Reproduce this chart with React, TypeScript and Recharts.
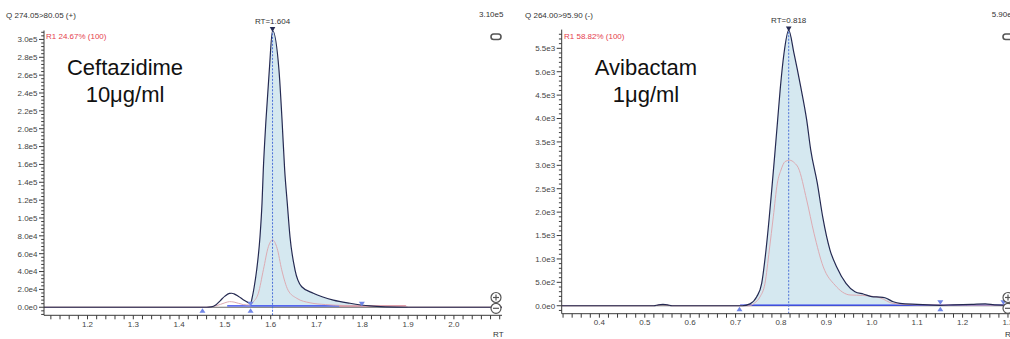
import React from 'react';
import {
  ComposedChart,
  Line,
  Area,
  XAxis,
  YAxis,
  ReferenceLine,
  ReferenceDot,
} from 'recharts';

const FONT = 'Arial, "Liberation Sans", sans-serif';
const NAVY = '#252a52';
const FILL = '#d5e8f0';
const PINK = '#dcaab2';
const BASE_BLUE = '#2a3df0';
const MARK_BLUE = '#7086e6';
const AXIS = '#3a3a3a';
const LABEL = '#444';

// Ceftazidime, Q 274.05>80.05 (+)
const ceftaRt = [
  1.105, 1.46, 1.47, 1.48, 1.49, 1.5, 1.51, 1.515, 1.52, 1.53, 1.54, 1.55, 1.556, 1.56, 1.564,
  1.5694, 1.5766, 1.581, 1.5838, 1.5897, 1.597, 1.604, 1.618, 1.6247, 1.6305, 1.6362, 1.6421,
  1.653, 1.6677, 1.693, 1.7367, 1.7731, 1.8168, 1.85, 1.9, 2.105,
];
const ceftaIntensity = [
  0, 0, 400, 2500, 7500, 12500, 15500, 15700, 15000, 12000, 8500, 5500, 4500, 12000, 23000,
  42000, 79000, 116500, 153700, 210000, 266000, 310000, 266000, 210000, 153700, 116500, 79000,
  42000, 23000, 15700, 8000, 4500, 1500, 500, 0, 0,
];
const ceftaRefRt = [
  1.105, 1.46, 1.48, 1.5, 1.51, 1.52, 1.54, 1.555, 1.562, 1.573, 1.584, 1.595, 1.604, 1.614,
  1.624, 1.638, 1.657, 1.686, 1.72, 1.76, 1.895, 1.9, 2.105,
];
const ceftaRefIntensity = [
  0, 0, 1500, 5000, 6300, 5800, 3000, 2500, 6000, 15700, 42000, 68000, 75400, 66000, 42000,
  19000, 10000, 5000, 3000, 2000, 1500, 0, 0,
];
const ceftaPeakRange: [number, number] = [1.556, 1.85];
const ceftaBaseRt = [1.505, 1.75];
const ceftaBaseLevel = [1500, 1500];
const ceftaTailRt = [1.75, 1.895];
const ceftaTailLevel = [1500, 1500];
const ceftaMarkerRt = [1.451, 1.556, 1.799];
const ceftaMarkerKind = ['up', 'both', 'down'];
const ceftaApex = { rt: 1.604, v: 310000, label: 'RT=1.604' };
const ceftaXMajor = [1.2, 1.3, 1.4, 1.5, 1.6, 1.7, 1.8, 1.9, 2.0];
const ceftaYMajor = [
  0, 20000, 40000, 60000, 80000, 100000, 120000, 140000, 160000, 180000, 200000, 220000,
  240000, 260000, 280000, 300000,
];

// Avibactam, Q 264.00>95.90 (-)
const aviRt = [
  0.317, 0.52, 0.53, 0.54, 0.55, 0.56, 0.715, 0.7318, 0.7465, 0.7575, 0.767, 0.7743, 0.7809,
  0.7865, 0.7925, 0.7985, 0.8066, 0.817, 0.8287, 0.8434, 0.8566, 0.8655, 0.88, 0.8919, 0.908,
  0.9227, 0.9432, 0.963, 0.9813, 1.0033, 1.018, 1.0291, 1.0474, 1.0622, 1.1, 1.151, 1.18,
  1.22, 1.25, 1.27, 1.3, 1.317,
];
const aviIntensity = [
  0, 0, 20, 30, 20, 0, 0, 40, 190, 480, 1190, 1900, 2620, 3250, 3950, 4650, 5390, 5890, 5390,
  4680, 3970, 3330, 2620, 1900, 1190, 830, 480, 300, 250, 190, 185, 170, 85, 50, 30, 10, 20,
  30, 40, 20, 10, 10,
];
const aviRefRt = [
  0.317, 0.52, 0.54, 0.56, 0.73, 0.742, 0.7538, 0.7648, 0.7743, 0.7831, 0.792, 0.8, 0.809,
  0.819, 0.83, 0.838, 0.8566, 0.8727, 0.8932, 0.919, 0.952, 0.98, 1.018, 1.047, 1.1, 1.317,
];
const aviRefIntensity = [
  0, 0, 25, 0, 0, 60, 190, 480, 1190, 1900, 2620, 2900, 3080, 3110, 3050, 2950, 2260, 1550,
  830, 440, 230, 220, 170, 50, 20, 10,
];
const aviPeakRange: [number, number] = [0.715, 1.151];
const aviBaseRt = [0.71, 1.3];
const aviBaseLevel = [15, 15];
const aviMarkerRt = [0.7086, 1.151, 1.29];
const aviMarkerKind = ['up', 'both', 'down'];
const aviApex = { rt: 0.817, v: 5890, label: 'RT=0.818' };
const aviXMajor = [0.4, 0.5, 0.6, 0.7, 0.8, 0.9, 1.0, 1.1, 1.2, 1.3];
const aviYMajor = [0, 500, 1000, 1500, 2000, 2500, 3000, 3500, 4000, 4500, 5000, 5500];

type Pt = { rt: number; v: number };
const zip = (rt: number[], v: number[]): Pt[] => rt.map((r, i) => ({ rt: r, v: v[i] }));

const steps = (from: number, to: number, step: number) => {
  const out: number[] = [];
  const n = Math.round((to - from) / step);
  for (let i = 0; i <= n; i++) out.push(Number((from + i * step).toFixed(4)));
  return out;
};

const fmtExp = (v: number) => v.toExponential(1).replace('+', '');
const isMajor = (majors: number[], v: number) => majors.some((m) => Math.abs(m - v) < 1e-6);

const XTick = (props: any) => {
  const { x, y, payload, majors } = props;
  const val = payload.value as number;
  return (
    <g>
      <line x1={x} x2={x} y1={y} y2={y + 4} stroke={AXIS} strokeWidth={1} />
      {isMajor(majors, val) && (
        <text x={x} y={y + 11.5} textAnchor="middle" fontSize={8} fontFamily={FONT} fill={LABEL}>
          {val.toFixed(1)}
        </text>
      )}
    </g>
  );
};

const YTick = (props: any) => {
  const { x, y, payload, majors } = props;
  const val = payload.value as number;
  const major = isMajor(majors, val);
  return (
    <g>
      <line x1={x - (major ? 5 : 2.8)} x2={x} y1={y} y2={y} stroke={AXIS} strokeWidth={1} />
      {major && (
        <text x={x - 6.5} y={y + 2.9} textAnchor="end" fontSize={8} fontFamily={FONT} fill={LABEL}>
          {fmtExp(val)}
        </text>
      )}
    </g>
  );
};

const Marker = (props: any) => {
  const { cx, cy, kind } = props;
  const down = `M${cx - 3},${cy - 5.5} L${cx + 3},${cy - 5.5} L${cx},${cy - 1} Z`;
  const up = `M${cx - 3},${cy + 5.5} L${cx + 3},${cy + 5.5} L${cx},${cy + 1} Z`;
  return (
    <g>
      {(kind === 'down' || kind === 'both') && <path d={down} fill={MARK_BLUE} />}
      {(kind === 'up' || kind === 'both') && <path d={up} fill={MARK_BLUE} />}
    </g>
  );
};

const ApexMark = (props: any) => {
  const { cx, cy, label } = props;
  return (
    <g>
      <path d={`M${cx - 2.8},${cy - 3.5} L${cx + 2.8},${cy - 3.5} L${cx},${cy + 1.5} Z`} fill={NAVY} />
      <text x={cx} y={cy - 7} textAnchor="middle" fontSize={8} fontFamily={FONT} fill="#333">
        {label}
      </text>
    </g>
  );
};

type PanelProps = {
  left: number;
  width: number;
  top: number;
  right: number;
  yAxisWidth: number;
  xAxisHeight: number;
  xDomain: [number, number];
  yDomain: [number, number];
  xMajor: number[];
  xMinor: number[];
  yMajor: number[];
  yMinor: number[];
  trace: Pt[];
  refTrace: Pt[];
  peakRange: [number, number];
  baselines: { data: Pt[]; color: string }[];
  markerRt: number[];
  markerKind: string[];
  apex: { rt: number; v: number; label: string };
};

function Panel(p: PanelProps) {
  const fill = p.trace.filter((d) => d.rt >= p.peakRange[0] && d.rt <= p.peakRange[1]);
  return (
    <div style={{ position: 'absolute', left: p.left, top: 0, width: p.width, height: 339 }}>
      <ComposedChart
        width={p.width}
        height={339}
        margin={{ top: p.top, right: p.right, bottom: 0, left: 0 }}
      >
        <XAxis
          type="number"
          dataKey="rt"
          domain={p.xDomain}
          allowDataOverflow
          ticks={p.xMinor}
          interval={0}
          height={p.xAxisHeight}
          tickSize={0}
          tickMargin={0}
          tickLine={false}
          axisLine={{ stroke: AXIS, strokeWidth: 1 }}
          tick={(t: any) => <XTick {...t} majors={p.xMajor} />}
        />
        <YAxis
          type="number"
          dataKey="v"
          domain={p.yDomain}
          allowDataOverflow
          ticks={p.yMinor}
          interval={0}
          width={p.yAxisWidth}
          tickSize={0}
          tickMargin={0}
          tickLine={false}
          axisLine={{ stroke: AXIS, strokeWidth: 1 }}
          tick={(t: any) => <YTick {...t} majors={p.yMajor} />}
        />
        <ReferenceLine y={0} stroke="#6a6a6a" strokeWidth={1} />
        <Area
          data={fill}
          dataKey="v"
          type="monotone"
          stroke="none"
          fill={FILL}
          fillOpacity={1}
          isAnimationActive={false}
        />
        {p.baselines.map((b, i) => (
          <Line
            key={i}
            data={b.data}
            dataKey="v"
            type="linear"
            stroke={b.color}
            strokeWidth={1.3}
            dot={false}
            isAnimationActive={false}
          />
        ))}
        <Line
          data={p.refTrace}
          dataKey="v"
          type="monotone"
          stroke={PINK}
          strokeWidth={1}
          dot={false}
          isAnimationActive={false}
        />
        <Line
          data={p.trace}
          dataKey="v"
          type="monotone"
          stroke={NAVY}
          strokeWidth={1.2}
          dot={false}
          isAnimationActive={false}
        />
        <ReferenceLine x={p.apex.rt} stroke="#4a6fd8" strokeDasharray="2 1.5" strokeWidth={1} />
      </ComposedChart>
      {/* second layer on the same scales so the peak markers sit above the traces */}
      <div style={{ position: 'absolute', left: 0, top: 0 }}>
        <ComposedChart
          width={p.width}
          height={339}
          margin={{ top: p.top, right: p.right, bottom: p.xAxisHeight, left: p.yAxisWidth }}
        >
          <XAxis type="number" dataKey="rt" domain={p.xDomain} allowDataOverflow hide />
          <YAxis type="number" dataKey="v" domain={p.yDomain} allowDataOverflow hide />
          {p.markerRt.map((rt, i) => (
            <ReferenceDot
              key={i}
              x={rt}
              y={0}
              ifOverflow="visible"
              shape={(s: any) => <Marker {...s} kind={p.markerKind[i]} />}
            />
          ))}
          <ReferenceDot
            x={p.apex.rt}
            y={p.apex.v}
            ifOverflow="visible"
            shape={(s: any) => <ApexMark {...s} label={p.apex.label} />}
          />
        </ComposedChart>
      </div>
    </div>
  );
}

const ZoomIcons = ({ cx }: { cx: number }) => (
  <g stroke="#555" fill="#fff" strokeWidth={1.2}>
    <rect x={cx - 5} y={34} width={10} height={5.5} rx={2.7} strokeWidth={1.6} />
    <circle cx={cx} cy={297.5} r={5} />
    <line x1={cx - 3} x2={cx + 3} y1={297.5} y2={297.5} />
    <line x1={cx} x2={cx} y1={294.5} y2={300.5} />
    <circle cx={cx} cy={308.3} r={5} />
    <line x1={cx - 3} x2={cx + 3} y1={308.3} y2={308.3} />
  </g>
);

export default function App() {
  const small = { fontSize: 8, fontFamily: FONT, fill: '#333' };
  const big = { fontSize: 22, fontFamily: FONT, fill: '#111', textAnchor: 'middle' as const };
  return (
    <div
      style={{
        position: 'absolute',
        left: 0,
        top: 0,
        width: 1010,
        height: 339,
        overflow: 'hidden',
        background: '#fff',
      }}
    >
      <Panel
        left={0}
        width={505}
        top={30.5}
        right={3}
        yAxisWidth={44}
        xAxisHeight={23.7}
        xDomain={[1.105, 2.105]}
        yDomain={[-9000, 310000]}
        xMajor={ceftaXMajor}
        xMinor={steps(1.12, 2.1, 0.02)}
        yMajor={ceftaYMajor}
        yMinor={steps(-8000, 308000, 4000)}
        trace={zip(ceftaRt, ceftaIntensity)}
        refTrace={zip(ceftaRefRt, ceftaRefIntensity)}
        peakRange={ceftaPeakRange}
        baselines={[
          { data: zip(ceftaBaseRt, ceftaBaseLevel), color: BASE_BLUE },
          { data: zip(ceftaTailRt, ceftaTailLevel), color: '#e06b80' },
        ]}
        markerRt={ceftaMarkerRt}
        markerKind={ceftaMarkerKind}
        apex={ceftaApex}
      />
      <Panel
        left={505}
        width={520}
        top={29.6}
        right={9.3}
        yAxisWidth={56.7}
        xAxisHeight={25.3}
        xDomain={[0.317, 1.317]}
        yDomain={[-170, 5900]}
        xMajor={aviXMajor}
        xMinor={steps(0.32, 1.3, 0.02)}
        yMajor={aviYMajor}
        yMinor={steps(-100, 5800, 100)}
        trace={zip(aviRt, aviIntensity)}
        refTrace={zip(aviRefRt, aviRefIntensity)}
        peakRange={aviPeakRange}
        baselines={[{ data: zip(aviBaseRt, aviBaseLevel), color: BASE_BLUE }]}
        markerRt={aviMarkerRt}
        markerKind={aviMarkerKind}
        apex={aviApex}
      />
      <svg
        width={1010}
        height={339}
        style={{ position: 'absolute', left: 0, top: 0, pointerEvents: 'none' }}
      >
        <text x={6} y={17.5} {...small}>Q 274.05&gt;80.05 (+)</text>
        <text x={479} y={16.7} {...small}>3.10e5</text>
        <text x={46} y={39} {...small} fill="#e5404e">R1 24.67% (100)</text>
        <text x={125} y={75} {...big}>Ceftazidime</text>
        <text x={125} y={101.7} {...big}>10μg/ml</text>
        <text x={493} y={337} {...small}>RT</text>
        <ZoomIcons cx={496} />

        <text x={525} y={17.5} {...small}>Q 264.00&gt;95.90 (-)</text>
        <text x={991.7} y={16.7} {...small}>5.90e3</text>
        <text x={564} y={39} {...small} fill="#e5404e">R1 58.82% (100)</text>
        <text x={646} y={75} {...big}>Avibactam</text>
        <text x={646} y={101.7} {...big}>1μg/ml</text>
        <text x={1005} y={337} {...small}>RT</text>
        <ZoomIcons cx={1008} />
      </svg>
    </div>
  );
}
